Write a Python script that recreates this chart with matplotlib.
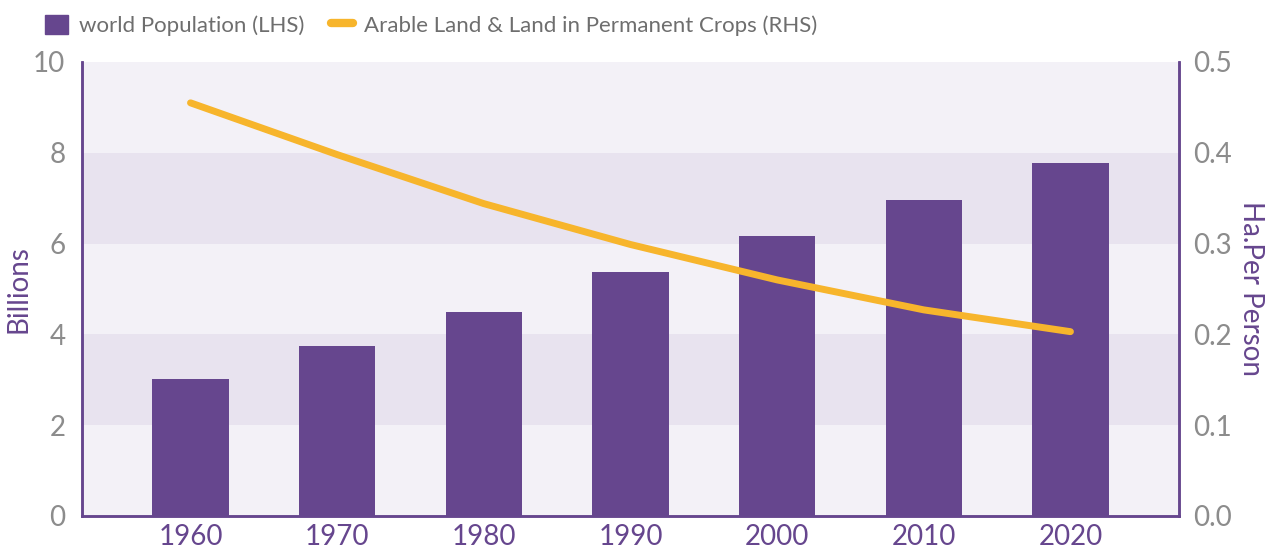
import matplotlib.pyplot as plt
from matplotlib.patches import Patch
from matplotlib.lines import Line2D

years = ['1960', '1970', '1980', '1990', '2000', '2010', '2020']
population = [3.02, 3.74, 4.49, 5.37, 6.17, 6.96, 7.78]
land_per_person = [0.455, 0.398, 0.344, 0.299, 0.260, 0.227, 0.203]

purple = '#66468e'
orange = '#f7b52c'
grey = '#8c8c8c'

plt.rcParams['font.family'] = ['Lato', 'DejaVu Sans']

fig = plt.figure(figsize=(12.71, 5.48), dpi=100)
ax = fig.add_axes([0.0645, 0.0584, 0.8631, 0.8285])
ax.set_facecolor('#f3f1f7')
for lo in (2, 6):
    ax.axhspan(lo, lo + 2, color='#e8e3ef', zorder=0, lw=0)

x = range(len(years))
ax.bar(x, population, width=0.52, color=purple, zorder=2)
ax.set_xlim(-0.74, 6.74)
ax.set_ylim(0, 10)
ax.set_yticks(range(0, 11, 2))
ax.set_xticks(list(x))
ax.set_xticklabels(years)
ax.tick_params(axis='y', length=0, labelsize=20, labelcolor=grey, pad=12)
ax.tick_params(axis='x', length=0, labelsize=20, labelcolor=purple, pad=6)
ax.set_ylabel('Billions', fontsize=20, color=purple, va='center')
ax.yaxis.set_label_coords(-0.058, 0.5)

ax2 = ax.twinx()
ax2.plot(x, land_per_person, color=orange, lw=5, solid_capstyle='round',
         solid_joinstyle='round', zorder=3)
ax2.set_ylim(0, 0.5)
ax2.set_yticks([0, 0.1, 0.2, 0.3, 0.4, 0.5])
ax2.set_yticklabels(['0.0', '0.1', '0.2', '0.3', '0.4', '0.5'])
ax2.tick_params(axis='y', length=0, labelsize=20, labelcolor=grey, pad=10)
ax2.set_ylabel('Ha.Per Person', fontsize=20, color=purple, rotation=270, va='center')
ax2.yaxis.set_label_coords(1.066, 0.5)

for a in (ax, ax2):
    a.spines['top'].set_visible(False)
    for s in ('left', 'right', 'bottom'):
        a.spines[s].set_color(purple)
        a.spines[s].set_linewidth(1.8)

handles = [Patch(color=purple, label='world Population (LHS)'),
           Line2D([0], [0], color=orange, lw=6, solid_capstyle='round',
                  label='Arable Land & Land in Permanent Crops (RHS)')]
fig.legend(handles=handles, loc='upper left', bbox_to_anchor=(0.02, 1.01), ncol=2,
           frameon=False, fontsize=16, labelcolor='#6e6e6e', handlelength=1.0,
           handleheight=1.0, columnspacing=1.2, handletextpad=0.5)

fig.savefig('out.png', dpi=100)
